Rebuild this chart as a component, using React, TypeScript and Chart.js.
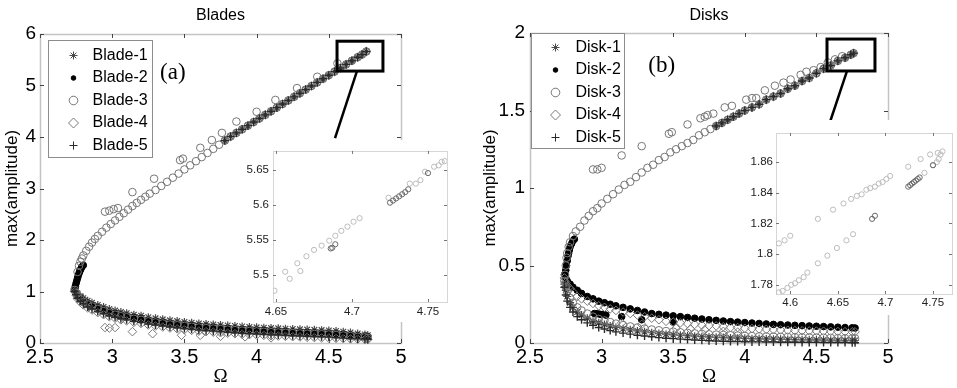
import React, { useEffect, useRef } from "react";
import { Chart, registerables } from "chart.js";
import { drawPoint } from "chart.js/helpers";

Chart.register(...registerables);

const SANS = "'Liberation Sans', Arial, sans-serif";
const SERIF = "'Liberation Serif', 'Times New Roman', serif";

// ---------- tick values ----------
const X_TICKS_MAIN = [2.5, 3, 3.5, 4, 4.5, 5];
const BLADE_Y_TICKS = [0, 1, 2, 3, 4, 5, 6];
const DISK_Y_TICKS = [0, 0.5, 1, 1.5, 2];
const INSET_A_X_TICKS = [4.65, 4.7, 4.75];
const INSET_A_Y_TICKS = [5.5, 5.55, 5.6, 5.65];
const INSET_B_X_TICKS = [4.6, 4.65, 4.7, 4.75];
const INSET_B_Y_TICKS = [1.78, 1.8, 1.82, 1.84, 1.86];

const BLADE_LABELS = ["Blade-1", "Blade-2", "Blade-3", "Blade-4", "Blade-5"];
const DISK_LABELS = ["Disk-1", "Disk-2", "Disk-3", "Disk-4", "Disk-5"];

// ---------- Blades: upper branch ----------
const BLADE_UP_OMEGA = [2.76, 2.77, 2.78, 2.79, 2.80, 2.82, 2.84, 2.86, 2.88, 2.90, 2.93, 2.96, 2.99, 3.02, 3.05, 3.08, 3.11, 3.14, 3.17, 3.20, 3.23, 3.26, 3.30, 3.34, 3.38, 3.42, 3.46, 3.50, 3.54, 3.58, 3.62, 3.66, 3.70, 3.74, 3.78, 3.82, 3.86, 3.90, 3.94, 3.98, 4.02, 4.06, 4.10, 4.14, 4.18, 4.22, 4.26, 4.30, 4.34, 4.38, 4.42, 4.46, 4.50, 4.54, 4.58, 4.62, 4.66, 4.70, 4.73, 4.76];
const BLADE_UP_AMP = [1.38, 1.50, 1.58, 1.64, 1.70, 1.79, 1.87, 1.95, 2.02, 2.08, 2.16, 2.24, 2.31, 2.38, 2.45, 2.52, 2.59, 2.66, 2.72, 2.78, 2.84, 2.90, 2.97, 3.05, 3.13, 3.21, 3.29, 3.37, 3.45, 3.53, 3.61, 3.69, 3.77, 3.85, 3.93, 4.01, 4.08, 4.15, 4.22, 4.29, 4.36, 4.43, 4.50, 4.57, 4.64, 4.71, 4.78, 4.85, 4.92, 4.99, 5.06, 5.13, 5.20, 5.27, 5.34, 5.41, 5.48, 5.55, 5.60, 5.66];
// upper-branch points of Blade-1/4/5 only show from Ω ≈ 3.78 upwards (darker part of the band)
const BLADE_UP_HI_OMEGA = [3.78, 3.82, 3.86, 3.90, 3.94, 3.98, 4.02, 4.06, 4.10, 4.14, 4.18, 4.22, 4.26, 4.30, 4.34, 4.38, 4.42, 4.46, 4.50, 4.54, 4.58, 4.62, 4.66, 4.70, 4.73, 4.76];
const BLADE_UP_HI_AMP = [3.93, 4.01, 4.08, 4.15, 4.22, 4.29, 4.36, 4.43, 4.50, 4.57, 4.64, 4.71, 4.78, 4.85, 4.92, 4.99, 5.06, 5.13, 5.20, 5.27, 5.34, 5.41, 5.48, 5.55, 5.60, 5.66];
const BLADE2_UP_OMEGA = [2.74, 2.745, 2.75, 2.755, 2.76, 2.765, 2.77, 2.775, 2.78, 2.785, 2.79, 2.80];
const BLADE2_UP_AMP = [1.04, 1.10, 1.16, 1.21, 1.26, 1.31, 1.35, 1.39, 1.42, 1.45, 1.48, 1.51];
const BLADE3_OUT_OMEGA = [2.95, 2.98, 3.01, 3.04, 3.14, 3.29, 3.47, 3.49, 3.61, 3.69, 3.76, 3.86, 4.00, 4.13, 4.28, 4.42, 4.56];
const BLADE3_OUT_AMP = [2.55, 2.57, 2.60, 2.62, 2.93, 3.19, 3.55, 3.58, 3.79, 3.94, 4.08, 4.30, 4.49, 4.72, 4.95, 5.17, 5.43];

// ---------- lower branch Ω grid (both panels) ----------
const LOW_OMEGA = [2.74, 2.75, 2.76, 2.78, 2.80, 2.83, 2.86, 2.90, 2.94, 2.98, 3.02, 3.06, 3.10, 3.15, 3.20, 3.25, 3.30, 3.35, 3.40, 3.45, 3.50, 3.55, 3.60, 3.65, 3.70, 3.75, 3.80, 3.85, 3.90, 3.95, 4.00, 4.05, 4.10, 4.15, 4.20, 4.25, 4.30, 4.35, 4.40, 4.45, 4.50, 4.55, 4.60, 4.65, 4.70, 4.75, 4.77];

// ---------- Blades: lower branch ----------
const BLADE1_LOW = [1.06, 1.01, 0.96, 0.91, 0.87, 0.82, 0.78, 0.74, 0.70, 0.66, 0.63, 0.60, 0.58, 0.55, 0.53, 0.50, 0.48, 0.46, 0.44, 0.425, 0.41, 0.395, 0.38, 0.37, 0.36, 0.35, 0.34, 0.33, 0.32, 0.312, 0.305, 0.298, 0.29, 0.284, 0.278, 0.272, 0.266, 0.26, 0.255, 0.25, 0.245, 0.235, 0.22, 0.205, 0.185, 0.165, 0.15];
const BLADE2_LOW = [1.02, 0.96, 0.92, 0.87, 0.82, 0.77, 0.73, 0.68, 0.64, 0.60, 0.57, 0.54, 0.52, 0.49, 0.47, 0.44, 0.42, 0.40, 0.38, 0.365, 0.35, 0.335, 0.32, 0.31, 0.30, 0.29, 0.28, 0.27, 0.26, 0.252, 0.245, 0.238, 0.23, 0.224, 0.218, 0.212, 0.206, 0.20, 0.195, 0.19, 0.185, 0.175, 0.165, 0.155, 0.14, 0.13, 0.12];
const BLADE3_LOW = [1.03, 0.97, 0.91, 0.85, 0.80, 0.75, 0.71, 0.66, 0.62, 0.58, 0.55, 0.52, 0.50, 0.47, 0.45, 0.42, 0.40, 0.38, 0.36, 0.345, 0.33, 0.315, 0.30, 0.29, 0.28, 0.27, 0.26, 0.25, 0.24, 0.232, 0.225, 0.218, 0.21, 0.204, 0.198, 0.192, 0.186, 0.18, 0.175, 0.17, 0.165, 0.155, 0.145, 0.135, 0.12, 0.11, 0.10];
const BLADE4_LOW = [1.00, 0.93, 0.86, 0.79, 0.74, 0.68, 0.64, 0.59, 0.55, 0.51, 0.48, 0.45, 0.43, 0.40, 0.38, 0.35, 0.33, 0.31, 0.29, 0.275, 0.26, 0.245, 0.23, 0.22, 0.21, 0.20, 0.19, 0.18, 0.17, 0.162, 0.155, 0.148, 0.14, 0.134, 0.128, 0.122, 0.116, 0.11, 0.105, 0.10, 0.095, 0.09, 0.085, 0.08, 0.075, 0.07, 0.07];
const BLADE5_LOW = [1.00, 0.94, 0.87, 0.81, 0.76, 0.70, 0.66, 0.61, 0.57, 0.53, 0.50, 0.47, 0.45, 0.42, 0.40, 0.37, 0.35, 0.33, 0.31, 0.295, 0.28, 0.265, 0.25, 0.24, 0.23, 0.22, 0.21, 0.20, 0.19, 0.182, 0.175, 0.168, 0.16, 0.154, 0.148, 0.142, 0.136, 0.13, 0.125, 0.12, 0.115, 0.105, 0.095, 0.085, 0.08, 0.075, 0.07];
const BLADE4_OUT_OMEGA = [2.95, 2.98, 3.02, 3.14, 3.28, 3.48, 3.61, 3.75, 3.92, 4.10];
const BLADE4_OUT_AMP = [0.30, 0.29, 0.30, 0.22, 0.18, 0.15, 0.15, 0.13, 0.12, 0.10];

// ---------- Disks: upper branch ----------
const DISK_UP_OMEGA = [2.745, 2.75, 2.755, 2.76, 2.77, 2.78, 2.80, 2.82, 2.85, 2.88, 2.91, 2.94, 2.97, 3.00, 3.04, 3.08, 3.12, 3.16, 3.20, 3.24, 3.28, 3.32, 3.36, 3.40, 3.44, 3.48, 3.52, 3.56, 3.60, 3.64, 3.68, 3.72, 3.76, 3.80, 3.84, 3.88, 3.92, 3.96, 4.00, 4.05, 4.10, 4.15, 4.20, 4.25, 4.30, 4.35, 4.40, 4.45, 4.50, 4.55, 4.60, 4.65, 4.70, 4.74, 4.76];
const DISK_UP_AMP = [0.44, 0.50, 0.55, 0.58, 0.62, 0.65, 0.69, 0.72, 0.75, 0.79, 0.82, 0.85, 0.87, 0.90, 0.93, 0.96, 0.99, 1.02, 1.04, 1.07, 1.10, 1.13, 1.15, 1.18, 1.20, 1.23, 1.25, 1.27, 1.29, 1.31, 1.34, 1.36, 1.38, 1.40, 1.42, 1.44, 1.46, 1.48, 1.50, 1.52, 1.54, 1.57, 1.59, 1.61, 1.64, 1.66, 1.69, 1.71, 1.74, 1.77, 1.79, 1.82, 1.84, 1.86, 1.87];
// upper-branch points of Disk-1/4/5 only show from Ω ≈ 3.8 upwards
const DISK_UP_HI_OMEGA = [3.80, 3.84, 3.88, 3.92, 3.96, 4.00, 4.05, 4.10, 4.15, 4.20, 4.25, 4.30, 4.35, 4.40, 4.45, 4.50, 4.55, 4.60, 4.65, 4.70, 4.74, 4.76];
const DISK_UP_HI_AMP = [1.40, 1.42, 1.44, 1.46, 1.48, 1.50, 1.52, 1.54, 1.57, 1.59, 1.61, 1.64, 1.66, 1.69, 1.71, 1.74, 1.77, 1.79, 1.82, 1.84, 1.86, 1.87];
const DISK2_UP_OMEGA = [2.745, 2.75, 2.755, 2.76, 2.765, 2.77, 2.775, 2.78, 2.79, 2.80, 2.81];
const DISK2_UP_AMP = [0.44, 0.47, 0.50, 0.53, 0.56, 0.58, 0.60, 0.62, 0.64, 0.66, 0.67];
const DISK3_OUT_OMEGA = [2.94, 2.97, 3.00, 3.14, 3.28, 3.47, 3.49, 3.60, 3.69, 3.72, 3.74, 3.78, 3.86, 3.91, 4.01, 4.05, 4.08, 4.14, 4.21, 4.27, 4.32, 4.39, 4.43, 4.48, 4.53, 4.58, 4.63, 4.68];
const DISK3_OUT_AMP = [1.12, 1.12, 1.13, 1.21, 1.27, 1.35, 1.36, 1.41, 1.45, 1.46, 1.47, 1.48, 1.52, 1.53, 1.57, 1.58, 1.58, 1.63, 1.66, 1.68, 1.70, 1.73, 1.75, 1.76, 1.78, 1.81, 1.83, 1.85];

// ---------- Disks: lower branch ----------
const DISK1_LOW = [0.38, 0.34, 0.30, 0.26, 0.23, 0.20, 0.18, 0.16, 0.14, 0.13, 0.12, 0.11, 0.10, 0.092, 0.085, 0.078, 0.072, 0.066, 0.061, 0.057, 0.053, 0.050, 0.047, 0.044, 0.041, 0.039, 0.037, 0.035, 0.033, 0.031, 0.030, 0.028, 0.027, 0.026, 0.025, 0.024, 0.023, 0.022, 0.021, 0.020, 0.020, 0.019, 0.018, 0.018, 0.017, 0.017, 0.016];
const DISK2_LOW = [0.44, 0.42, 0.40, 0.38, 0.36, 0.34, 0.32, 0.30, 0.285, 0.27, 0.26, 0.25, 0.24, 0.23, 0.22, 0.21, 0.20, 0.19, 0.185, 0.18, 0.175, 0.17, 0.165, 0.16, 0.155, 0.15, 0.146, 0.142, 0.138, 0.135, 0.132, 0.129, 0.126, 0.123, 0.12, 0.118, 0.116, 0.114, 0.112, 0.11, 0.108, 0.106, 0.104, 0.102, 0.10, 0.098, 0.097];
const DISK3_LOW = [0.40, 0.36, 0.33, 0.29, 0.26, 0.23, 0.21, 0.19, 0.17, 0.155, 0.145, 0.135, 0.125, 0.115, 0.107, 0.10, 0.093, 0.087, 0.082, 0.077, 0.073, 0.069, 0.065, 0.062, 0.059, 0.056, 0.054, 0.052, 0.050, 0.048, 0.046, 0.045, 0.043, 0.042, 0.041, 0.040, 0.039, 0.038, 0.037, 0.036, 0.035, 0.034, 0.033, 0.032, 0.031, 0.030, 0.030];
const DISK4_LOW = [0.42, 0.39, 0.37, 0.35, 0.33, 0.30, 0.285, 0.27, 0.255, 0.24, 0.23, 0.22, 0.21, 0.20, 0.19, 0.18, 0.17, 0.16, 0.15, 0.14, 0.135, 0.13, 0.125, 0.12, 0.115, 0.112, 0.11, 0.105, 0.10, 0.10, 0.095, 0.093, 0.09, 0.088, 0.086, 0.084, 0.082, 0.08, 0.079, 0.078, 0.077, 0.076, 0.075, 0.074, 0.073, 0.072, 0.072];
const DISK5_LOW = [0.36, 0.31, 0.27, 0.23, 0.20, 0.17, 0.15, 0.13, 0.115, 0.10, 0.09, 0.08, 0.072, 0.064, 0.057, 0.05, 0.045, 0.04, 0.035, 0.031, 0.028, 0.025, 0.022, 0.019, 0.017, 0.015, 0.013, 0.011, 0.010, 0.009, 0.008, 0.007, 0.007, 0.006, 0.006, 0.005, 0.005, 0.005, 0.004, 0.004, 0.004, 0.003, 0.003, 0.003, 0.003, 0.002, 0.002];
const DISK2_OUT_OMEGA = [2.95, 2.97, 2.99, 3.01, 3.03, 3.14, 3.28, 3.50];
const DISK2_OUT_AMP = [0.19, 0.19, 0.185, 0.185, 0.18, 0.17, 0.15, 0.135];
const DISK4_OUT_OMEGA = [3.14, 3.28, 3.52, 3.62, 3.72, 3.85, 3.95];
const DISK4_OUT_AMP = [0.13, 0.12, 0.095, 0.09, 0.085, 0.075, 0.07];

// ---------- insets ----------
const INSET_A_OMEGA = [4.649, 4.656, 4.659, 4.664, 4.666, 4.670, 4.675, 4.680, 4.685, 4.689, 4.693, 4.697, 4.701, 4.705, 4.724, 4.738, 4.742, 4.745, 4.748, 4.754, 4.757, 4.759, 4.761];
const INSET_A_AMP = [5.478, 5.505, 5.495, 5.517, 5.506, 5.527, 5.536, 5.542, 5.549, 5.556, 5.563, 5.569, 5.576, 5.581, 5.610, 5.630, 5.630, 5.635, 5.647, 5.654, 5.656, 5.661, 5.662];
const INSET_A_DARK_OMEGA = [4.686, 4.687, 4.689, 4.725, 4.727, 4.729, 4.731, 4.733, 4.735, 4.737, 4.750];
const INSET_A_DARK_AMP = [5.538, 5.539, 5.544, 5.603, 5.606, 5.609, 5.612, 5.615, 5.618, 5.622, 5.645];
const INSET_B_OMEGA = [4.588, 4.594, 4.600, 4.629, 4.645, 4.656, 4.664, 4.670, 4.675, 4.680, 4.684, 4.689, 4.693, 4.697, 4.701, 4.705, 4.588, 4.592, 4.597, 4.601, 4.605, 4.609, 4.614, 4.618, 4.629, 4.639, 4.649, 4.659, 4.666, 4.724, 4.737, 4.741, 4.747, 4.750, 4.754, 4.755, 4.756, 4.758, 4.760];
const INSET_B_AMP = [1.807, 1.809, 1.812, 1.823, 1.829, 1.833, 1.836, 1.838, 1.839, 1.842, 1.843, 1.844, 1.846, 1.847, 1.849, 1.851, 1.775, 1.776, 1.778, 1.780, 1.781, 1.783, 1.785, 1.788, 1.794, 1.799, 1.804, 1.809, 1.813, 1.857, 1.862, 1.853, 1.865, 1.858, 1.860, 1.866, 1.862, 1.865, 1.867];
const INSET_B_DARK_OMEGA = [4.686, 4.689, 4.724, 4.726, 4.728, 4.730, 4.732, 4.734, 4.736, 4.750];
const INSET_B_DARK_AMP = [1.823, 1.825, 1.844, 1.845, 1.846, 1.847, 1.848, 1.849, 1.850, 1.858];

// ---------- helpers ----------
const pts = (xs: number[], ys: number[]) => xs.map((x, i) => ({ x, y: ys[i] }));
const fmt = (v: any) => String(Math.round(Number(v) * 1000) / 1000);

const MARKERS = [
  { pointStyle: "star", radius: 4, width: 1.2, color: "#4a4a4a", fill: "rgba(0,0,0,0)", legendRadius: 4 },
  { pointStyle: "circle", radius: 3.3, width: 1, color: "#000000", fill: "#000000", legendRadius: 2.3 },
  { pointStyle: "circle", radius: 3.8, width: 1, color: "#767676", fill: "rgba(0,0,0,0)", legendRadius: 4.3 },
  { pointStyle: "rectRot", radius: 4.3, width: 1, color: "#7a7a7a", fill: "rgba(0,0,0,0)", legendRadius: 5 },
  { pointStyle: "cross", radius: 4, width: 1.4, color: "#2a2a2a", fill: "rgba(0,0,0,0)", legendRadius: 4 },
];

const BLADE_SERIES = [
  [...pts(BLADE_UP_HI_OMEGA, BLADE_UP_HI_AMP), ...pts(LOW_OMEGA, BLADE1_LOW)],
  [...pts(BLADE2_UP_OMEGA, BLADE2_UP_AMP), ...pts(LOW_OMEGA, BLADE2_LOW)],
  [...pts(BLADE_UP_OMEGA, BLADE_UP_AMP), ...pts(LOW_OMEGA, BLADE3_LOW), ...pts(BLADE3_OUT_OMEGA, BLADE3_OUT_AMP)],
  [...pts(BLADE_UP_HI_OMEGA, BLADE_UP_HI_AMP), ...pts(LOW_OMEGA, BLADE4_LOW), ...pts(BLADE4_OUT_OMEGA, BLADE4_OUT_AMP)],
  [...pts(BLADE_UP_HI_OMEGA, BLADE_UP_HI_AMP), ...pts(LOW_OMEGA, BLADE5_LOW)],
];
const DISK_SERIES = [
  [...pts(DISK_UP_HI_OMEGA, DISK_UP_HI_AMP), ...pts(LOW_OMEGA, DISK1_LOW)],
  [...pts(DISK2_UP_OMEGA, DISK2_UP_AMP), ...pts(LOW_OMEGA, DISK2_LOW), ...pts(DISK2_OUT_OMEGA, DISK2_OUT_AMP)],
  [...pts(DISK_UP_OMEGA, DISK_UP_AMP), ...pts(LOW_OMEGA, DISK3_LOW), ...pts(DISK3_OUT_OMEGA, DISK3_OUT_AMP)],
  [...pts(DISK_UP_HI_OMEGA, DISK_UP_HI_AMP), ...pts(LOW_OMEGA, DISK4_LOW), ...pts(DISK4_OUT_OMEGA, DISK4_OUT_AMP)],
  [...pts(DISK_UP_HI_OMEGA, DISK_UP_HI_AMP), ...pts(LOW_OMEGA, DISK5_LOW)],
];

const BLADES_PANEL = {
  labels: BLADE_LABELS, series: BLADE_SERIES, yMax: 6, yTicks: BLADE_Y_TICKS,
  padTop: 34, padRight: 79, yWidth: 40, yPad: 4, yTitlePad: 2,
  title: "Blades", panelLabel: "(a)", panelLabelAt: [3.42, 5.24],
  zoomBox: [4.557, 5.28, 4.875, 5.86], leader: [4.695, 5.28, 4.543, 3.98],
  legend: { dx: 8, dy: 6, w: 104, h: 117, rowDy: 15, rowGap: 22.5, markerDx: 25, textDx: 44 },
};
const DISKS_PANEL = {
  labels: DISK_LABELS, series: DISK_SERIES, yMax: 2, yTicks: DISK_Y_TICKS,
  padTop: 33, padRight: 69, yWidth: 50, yPad: 5, yTitlePad: 0,
  title: "Disks", panelLabel: "(b)", panelLabelAt: [3.42, 1.79],
  zoomBox: [4.574, 1.755, 4.909, 1.961], leader: [4.714, 1.755, 4.581, 1.387],
  legend: { dx: 1, dy: 0, w: 93, h: 115, rowDy: 14, rowGap: 22.5, markerDx: 24, textDx: 44 },
};

const INSET_A = {
  light: pts(INSET_A_OMEGA, INSET_A_AMP), dark: pts(INSET_A_DARK_OMEGA, INSET_A_DARK_AMP),
  xMin: 4.648, xMax: 4.7625, yMin: 5.462, yMax: 5.6765, xTicks: INSET_A_X_TICKS, yTicks: INSET_A_Y_TICKS,
  padTop: 9, padRight: 8, yWidth: 35, xHeight: 20, yPad: 4, xPad: 3,
};
const INSET_B = {
  light: pts(INSET_B_OMEGA, INSET_B_AMP), dark: pts(INSET_B_DARK_OMEGA, INSET_B_DARK_AMP),
  xMin: 4.585, xMax: 4.77, yMin: 1.774, yMax: 1.879, xTicks: INSET_B_X_TICKS, yTicks: INSET_B_Y_TICKS,
  padTop: 13, padRight: 0, yWidth: 34, xHeight: 21, yPad: 3, xPad: 2,
};

// ---------- plugins ----------
const framePlugin = (o: { color: string; width: number; tickLen: number; tickColor: string }) => ({
  id: "frame",
  beforeDatasetsDraw(chart: any) {
    const { ctx, chartArea: a, scales } = chart;
    ctx.save();
    ctx.strokeStyle = o.color;
    ctx.lineWidth = o.width;
    ctx.strokeRect(Math.round(a.left) + 0.5, Math.round(a.top) + 0.5, Math.round(a.width), Math.round(a.height));
    ctx.strokeStyle = o.tickColor;
    ctx.lineWidth = 1;
    ctx.beginPath();
    scales.x.ticks.forEach((t: any) => {
      const px = Math.round(scales.x.getPixelForValue(t.value)) + 0.5;
      ctx.moveTo(px, a.bottom); ctx.lineTo(px, a.bottom - o.tickLen);
      ctx.moveTo(px, a.top); ctx.lineTo(px, a.top + o.tickLen);
    });
    scales.y.ticks.forEach((t: any) => {
      const py = Math.round(scales.y.getPixelForValue(t.value)) + 0.5;
      ctx.moveTo(a.left, py); ctx.lineTo(a.left + o.tickLen, py);
      ctx.moveTo(a.right, py); ctx.lineTo(a.right - o.tickLen, py);
    });
    ctx.stroke();
    ctx.restore();
  },
});

const bgPlugin = {
  id: "bg",
  beforeDraw(chart: any) {
    const { ctx, width, height } = chart;
    ctx.save();
    ctx.fillStyle = "#ffffff";
    ctx.fillRect(0, 0, width, height);
    ctx.restore();
  },
};

const decorPlugin = (p: any) => ({
  id: "decor",
  afterDatasetsDraw(chart: any) {
    const { ctx, chartArea: a, scales } = chart;
    const x = scales.x, y = scales.y;
    ctx.save();
    // title
    ctx.fillStyle = "#000";
    ctx.textAlign = "center";
    ctx.textBaseline = "middle";
    ctx.font = `16px ${SANS}`;
    ctx.fillText(p.title, (a.left + a.right) / 2, 16);
    // panel label
    ctx.font = `23px ${SERIF}`;
    ctx.fillText(p.panelLabel, x.getPixelForValue(p.panelLabelAt[0]), y.getPixelForValue(p.panelLabelAt[1]));
    // zoom box
    const [bx0, by0, bx1, by1] = p.zoomBox;
    const X0 = x.getPixelForValue(bx0), X1 = x.getPixelForValue(bx1);
    const Y0 = y.getPixelForValue(by1), Y1 = y.getPixelForValue(by0);
    ctx.strokeStyle = "#000";
    ctx.lineWidth = 3;
    ctx.strokeRect(X0, Y0, X1 - X0, Y1 - Y0);
    // leader line
    const [l0x, l0y, l1x, l1y] = p.leader;
    ctx.lineWidth = 2.5;
    ctx.beginPath();
    ctx.moveTo(x.getPixelForValue(l0x), y.getPixelForValue(l0y));
    ctx.lineTo(x.getPixelForValue(l1x), y.getPixelForValue(l1y));
    ctx.stroke();
    // legend
    const L = p.legend;
    const lx = Math.round(a.left + L.dx) + 0.5, ly = Math.round(a.top + L.dy) + 0.5;
    ctx.fillStyle = "#fff";
    ctx.fillRect(lx, ly, L.w, L.h);
    ctx.strokeStyle = "#8c8c8c";
    ctx.lineWidth = 1;
    ctx.strokeRect(lx, ly, L.w, L.h);
    ctx.textAlign = "left";
    ctx.textBaseline = "middle";
    p.labels.forEach((lab: string, i: number) => {
      const m = MARKERS[i];
      const ry = ly + L.rowDy + i * L.rowGap;
      ctx.strokeStyle = m.color;
      ctx.fillStyle = m.fill;
      ctx.lineWidth = 1;
      drawPoint(ctx, { pointStyle: m.pointStyle, rotation: 0, radius: m.legendRadius, borderWidth: 1 } as any, lx + L.markerDx, ry);
      ctx.fillStyle = "#000";
      ctx.font = `16px ${SANS}`;
      ctx.fillText(lab, lx + L.textDx, ry);
    });
    ctx.restore();
  },
});

// ---------- chart builders ----------
function makeMain(canvas: HTMLCanvasElement, p: any) {
  return new Chart(canvas, {
    type: "scatter",
    data: {
      datasets: p.series.map((data: any[], i: number) => {
        const m = MARKERS[i];
        return {
          label: p.labels[i],
          data,
          pointStyle: m.pointStyle,
          pointRadius: m.radius,
          pointBorderWidth: m.width,
          pointBorderColor: m.color,
          pointBackgroundColor: m.fill,
          borderColor: m.color,
          backgroundColor: m.fill,
          showLine: false,
          order: 5 - i,
          clip: false,
        };
      }),
    },
    options: {
      animation: false,
      responsive: false,
      events: [],
      layout: { padding: { top: p.padTop, right: p.padRight, left: 0, bottom: 0 } },
      plugins: { legend: { display: false }, tooltip: { enabled: false } },
      scales: {
        x: {
          type: "linear",
          min: 2.5,
          max: 5,
          afterBuildTicks: (s: any) => { s.ticks = X_TICKS_MAIN.map((v) => ({ value: v })); },
          afterFit: (s: any) => { s.height = 45; },
          grid: { display: false, drawTicks: false },
          border: { display: false },
          ticks: { font: { family: SANS, size: 20 }, color: "#000", padding: 2, autoSkip: false, maxRotation: 0, callback: fmt },
          title: { display: true, text: "Ω", font: { family: SERIF, size: 19 }, color: "#000", padding: { top: 0, bottom: 0 } },
        },
        y: {
          type: "linear",
          min: 0,
          max: p.yMax,
          afterBuildTicks: (s: any) => { s.ticks = p.yTicks.map((v: number) => ({ value: v })); },
          afterFit: (s: any) => { s.width = p.yWidth; },
          grid: { display: false, drawTicks: false },
          border: { display: false },
          ticks: { font: { family: SANS, size: 19 }, color: "#000", padding: p.yPad, autoSkip: false, callback: fmt },
          title: { display: true, text: "max(amplitude)", font: { family: SANS, size: 17 }, color: "#000", padding: { top: p.yTitlePad, bottom: 0 } },
        },
      },
    } as any,
    plugins: [framePlugin({ color: "#c4c4c4", width: 1.5, tickLen: 4, tickColor: "#444" }), decorPlugin(p)],
  } as any);
}

function makeInset(canvas: HTMLCanvasElement, p: any) {
  return new Chart(canvas, {
    type: "scatter",
    data: {
      datasets: [
        { label: "zoom-dark", data: p.dark, pointStyle: "circle", pointRadius: 2.6, pointBorderWidth: 1, pointBorderColor: "#6a6a6a", pointBackgroundColor: "rgba(0,0,0,0)", showLine: false },
        { label: "zoom", data: p.light, pointStyle: "circle", pointRadius: 2.6, pointBorderWidth: 1, pointBorderColor: "#bdbdbd", pointBackgroundColor: "rgba(0,0,0,0)", showLine: false },
      ],
    },
    options: {
      animation: false,
      responsive: false,
      events: [],
      layout: { padding: { top: p.padTop, right: p.padRight, left: 0, bottom: 0 } },
      plugins: { legend: { display: false }, tooltip: { enabled: false } },
      scales: {
        x: {
          type: "linear",
          min: p.xMin,
          max: p.xMax,
          afterBuildTicks: (s: any) => { s.ticks = p.xTicks.map((v: number) => ({ value: v })); },
          afterFit: (s: any) => { s.height = p.xHeight; },
          grid: { display: false, drawTicks: false },
          border: { display: false },
          ticks: { font: { family: SANS, size: 11.5 }, color: "#222", padding: p.xPad, autoSkip: false, maxRotation: 0, callback: fmt },
        },
        y: {
          type: "linear",
          min: p.yMin,
          max: p.yMax,
          afterBuildTicks: (s: any) => { s.ticks = p.yTicks.map((v: number) => ({ value: v })); },
          afterFit: (s: any) => { s.width = p.yWidth; },
          grid: { display: false, drawTicks: false },
          border: { display: false },
          ticks: { font: { family: SANS, size: 11.5 }, color: "#222", padding: p.yPad, autoSkip: false, callback: fmt },
        },
      },
    } as any,
    plugins: [bgPlugin, framePlugin({ color: "#d6d6d6", width: 1, tickLen: 3, tickColor: "#777" })],
  } as any);
}

export default function App() {
  const leftRef = useRef<HTMLCanvasElement>(null);
  const rightRef = useRef<HTMLCanvasElement>(null);
  const insetARef = useRef<HTMLCanvasElement>(null);
  const insetBRef = useRef<HTMLCanvasElement>(null);

  useEffect(() => {
    const charts = [
      makeMain(leftRef.current!, BLADES_PANEL),
      makeMain(rightRef.current!, DISKS_PANEL),
      makeInset(insetARef.current!, INSET_A),
      makeInset(insetBRef.current!, INSET_B),
    ];
    return () => charts.forEach((c) => c.destroy());
  }, []);

  return (
    <div style={{ position: "fixed", left: 0, top: 0, width: 957, height: 388, background: "#fff", overflow: "hidden" }}>
      <canvas ref={leftRef} width={480} height={388} style={{ position: "absolute", left: 0, top: 0 }} />
      <canvas ref={rightRef} width={477} height={388} style={{ position: "absolute", left: 480, top: 0 }} />
      <canvas ref={insetARef} width={217} height={182} style={{ position: "absolute", left: 238, top: 140 }} />
      <canvas ref={insetBRef} width={215} height={195} style={{ position: "absolute", left: 742, top: 120 }} />
    </div>
  );
}
